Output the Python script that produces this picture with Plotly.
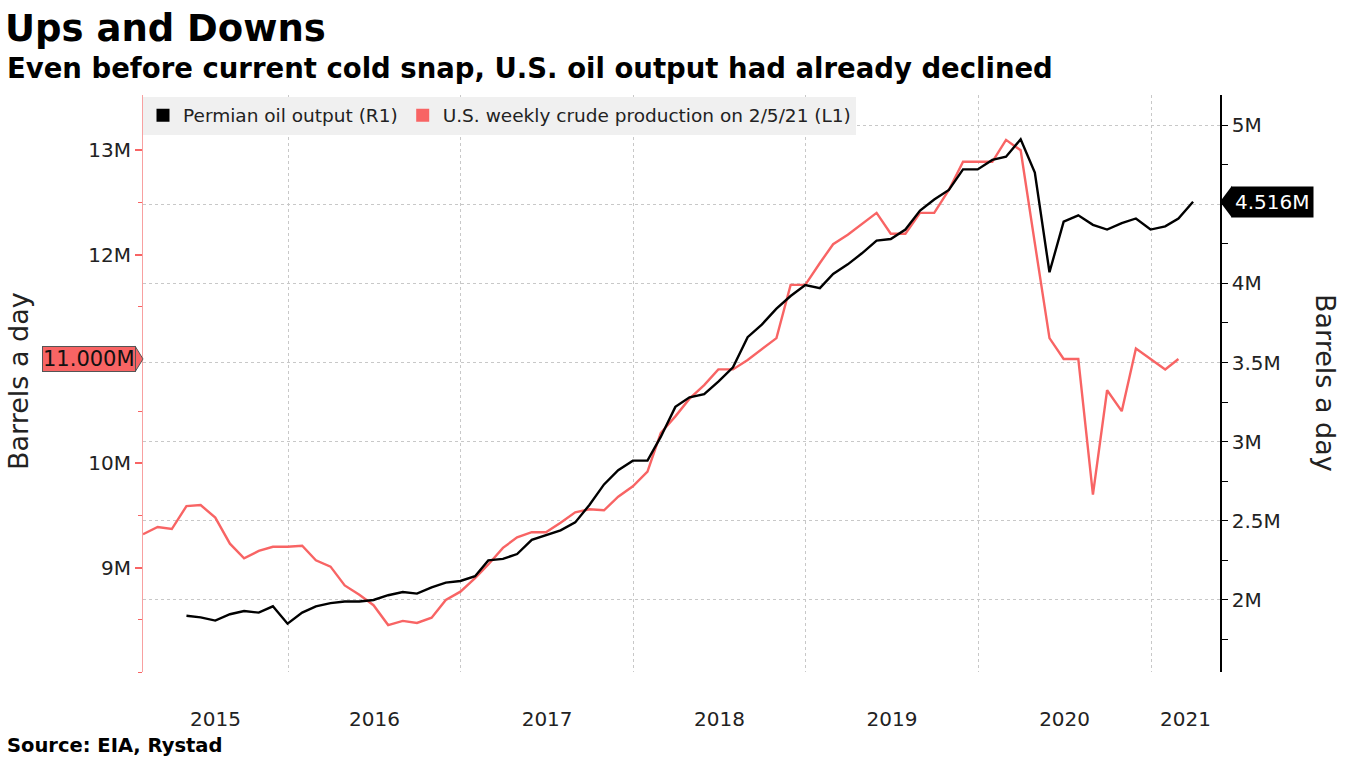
import pandas as pd
import plotly.graph_objects as go

# ---------------- data (millions of barrels a day, month-end observations) ----------------
us_start = "2015-02-28"
us_production = [
    9.32, 9.39, 9.37, 9.59, 9.60, 9.48, 9.23, 9.09, 9.16, 9.20, 9.20,
    9.21, 9.07, 9.01, 8.83, 8.74, 8.64, 8.45, 8.49, 8.47, 8.52, 8.69, 8.77,
    8.90, 9.03, 9.19, 9.29, 9.34, 9.34, 9.43, 9.53, 9.56, 9.55, 9.68, 9.78,
    9.92, 10.29, 10.45, 10.62, 10.75, 10.90, 10.90, 10.99, 11.09, 11.20, 11.71, 11.71,
    11.92, 12.10, 12.19, 12.29, 12.40, 12.20, 12.20, 12.40, 12.40, 12.62, 12.89, 12.89,
    12.89, 13.10, 13.00, 12.11, 11.20, 11.00, 11.00, 9.70, 10.70, 10.50, 11.10, 11.00,
    10.90, 11.00,
]
permian_start = "2015-05-31"
permian_output = [
    1.90, 1.89, 1.87, 1.91, 1.93, 1.92, 1.96, 1.85,
    1.92, 1.96, 1.98, 1.99, 1.99, 2.00, 2.03, 2.05, 2.04, 2.08, 2.11, 2.12,
    2.15, 2.25, 2.26, 2.29, 2.38, 2.41, 2.44, 2.49, 2.60, 2.73, 2.82, 2.88,
    2.88, 3.03, 3.22, 3.28, 3.30, 3.38, 3.47, 3.66, 3.74, 3.84, 3.92, 3.99,
    3.97, 4.06, 4.12, 4.19, 4.27, 4.28, 4.34, 4.46, 4.53, 4.59, 4.72, 4.72,
    4.78, 4.80, 4.91, 4.70, 4.07, 4.39, 4.43, 4.37, 4.34, 4.38, 4.41, 4.34,
    4.36, 4.41, 4.516,
]
years = [2015, 2016, 2017, 2018, 2019, 2020, 2021]
left_tick_vals = [9, 10, 12, 13]
left_tick_text = ["9M", "10M", "12M", "13M"]
right_tick_vals = [2, 2.5, 3, 3.5, 4, 4.5, 5]
right_tick_text = ["2M", "2.5M", "3M", "3.5M", "4M", "", "5M"]

us_dates = pd.date_range(us_start, periods=len(us_production), freq=pd.offsets.MonthEnd())
permian_dates = pd.date_range(permian_start, periods=len(permian_output), freq=pd.offsets.MonthEnd())

# ---------------- style ----------------
RED = "#f86464"
FONT = "DejaVu Sans"
W, H = 1348, 758
ML, MR, MT, MB = 143, 128, 95, 86
PW, PH = W - ML - MR, H - MT - MB

x_start = pd.Timestamp("2015-02-28")
x_end = pd.Timestamp("2021-05-27")
year_starts = [pd.Timestamp(f"{y}-01-01") for y in years[1:]]
year_label_pos = []
for y in years:
    a = max(pd.Timestamp(f"{y}-01-01"), x_start)
    b = min(pd.Timestamp(f"{y + 1}-01-01"), x_end)
    year_label_pos.append(a + (b - a) / 2)

fig = go.Figure()
fig.add_trace(go.Scatter(x=us_dates, y=us_production, mode="lines",
                         line=dict(color=RED, width=2.4), yaxis="y",
                         name="U.S. weekly crude production on 2/5/21 (L1)", showlegend=False))
fig.add_trace(go.Scatter(x=permian_dates, y=permian_output, mode="lines",
                         line=dict(color="black", width=2.4), yaxis="y2",
                         name="Permian oil output (R1)", showlegend=False))
# legend entries with square swatches
fig.add_trace(go.Scatter(x=[None], y=[None], mode="markers", yaxis="y2",
                         marker=dict(symbol="square", size=13, color="black"),
                         name="Permian oil output (R1)"))
fig.add_trace(go.Scatter(x=[None], y=[None], mode="markers",
                         marker=dict(symbol="square", size=13, color=RED),
                         name="U.S. weekly crude production on 2/5/21 (L1)"))

fig.update_layout(
    width=W, height=H,
    margin=dict(l=ML, r=MR, t=MT, b=MB),
    paper_bgcolor="white", plot_bgcolor="white",
    font=dict(family=FONT, color="#222222", size=19),
    title=dict(text="<b>Ups and Downs</b>", xref="container", yref="container",
               x=5 / W, xanchor="left", y=1 - 28 / H, yanchor="middle",
               font=dict(size=37, color="black", family=FONT)),
    showlegend=True,
    legend=dict(orientation="h", x=0.0, y=0.997, xanchor="left", yanchor="top",
                bgcolor="#f0f0f0", font=dict(size=18.5, color="#222222"),
                itemwidth=30, traceorder="normal"),
    xaxis=dict(range=[x_start, x_end], tickmode="array", tickvals=year_label_pos,
               ticktext=[str(y) for y in years], ticks="", showgrid=False,
               showline=False, zeroline=False, ticklabelstandoff=33,
               tickfont=dict(size=20, color="#222222"),
               minor=dict(tickmode="array", tickvals=year_starts, showgrid=True,
                          gridcolor="#c8c8c8", griddash="dot", gridwidth=1, ticks="")),
    yaxis=dict(range=[8.0, 13.53], tickmode="array", tickvals=left_tick_vals,
               ticktext=left_tick_text, ticks="outside", ticklen=7, tickwidth=2,
               tickcolor=RED, showline=True, linecolor="#f8a0a0", linewidth=1,
               showgrid=False, zeroline=False, tickfont=dict(size=20, color="#222222"),
               minor=dict(tickmode="array", tickvals=[8, 8.5, 9.5, 10.5, 11, 11.5, 12.5],
                          ticks="outside", ticklen=4, tickwidth=1, tickcolor=RED,
                          showgrid=False)),
    yaxis2=dict(range=[1.545, 5.19], overlaying="y", side="right", anchor="x",
                tickmode="array", tickvals=right_tick_vals, ticktext=right_tick_text,
                ticks="outside", ticklen=6, tickwidth=1, tickcolor="black",
                showline=True, linecolor="black", linewidth=1.5,
                showgrid=True, gridcolor="#c8c8c8", griddash="dot", gridwidth=1,
                zeroline=False, tickfont=dict(size=20, color="#222222"),
                minor=dict(tickmode="array", tickvals=[1.75, 2.25, 2.75, 3.25, 3.75, 4.25, 4.75],
                           ticks="outside", ticklen=6, tickwidth=1, tickcolor="black",
                           showgrid=False)),
)

us_last = us_production[-1]
permian_last = permian_output[-1]

annotations = [
    dict(text="<b>Even before current cold snap, U.S. oil output had already declined</b>",
         xref="paper", yref="paper", x=(5 - ML) / PW, y=1 + (MT - 68) / PH,
         xanchor="left", yanchor="middle", showarrow=False,
         font=dict(size=27.5, color="black", family=FONT)),
    dict(text="<b>Source: EIA, Rystad</b>", xref="paper", yref="paper",
         x=(5 - ML) / PW, y=-(745 - (H - MB)) / PH, xanchor="left", yanchor="middle",
         showarrow=False, font=dict(size=19.5, color="black", family=FONT)),
    dict(text="Barrels a day", xref="paper", yref="paper", x=(18 - ML) / PW,
         y=((H - MB) - 381) / PH, xanchor="center", yanchor="middle", textangle=-90,
         showarrow=False, font=dict(size=27, color="#222222")),
    dict(text="Barrels a day", xref="paper", yref="paper", x=(1326 - ML) / PW,
         y=((H - MB) - 383) / PH, xanchor="center", yanchor="middle", textangle=90,
         showarrow=False, font=dict(size=27, color="#222222")),
    dict(text=f"{us_last:.3f}M", xref="paper", yref="y", x=0, y=us_last,
         xanchor="right", yanchor="middle", xshift=-7, showarrow=False,
         bgcolor=RED, bordercolor="#555555", borderwidth=1, borderpad=0,
         font=dict(size=21, color="#111111")),
    dict(text=f"{permian_last:.3f}M", xref="paper", yref="y2", x=1, y=permian_last,
         xanchor="left", yanchor="middle", xshift=11, showarrow=False,
         bgcolor="black", borderpad=3, font=dict(size=20, color="white")),
]
fig.update_layout(annotations=annotations)

fig.update_layout(shapes=[
    dict(type="path", xref="paper", yref="y", xsizemode="pixel", ysizemode="pixel",
         xanchor=0, yanchor=us_last, path="M 0,0 L -8,-13 L -8,13 Z",
         fillcolor=RED, line=dict(color="#555555", width=1), layer="above"),
    dict(type="path", xref="paper", yref="y2", xsizemode="pixel", ysizemode="pixel",
         xanchor=1, yanchor=permian_last, path="M 0,0 L 12,-16 L 12,16 Z",
         fillcolor="black", line=dict(color="black", width=0), layer="above"),
])

fig.write_html("out.html")
